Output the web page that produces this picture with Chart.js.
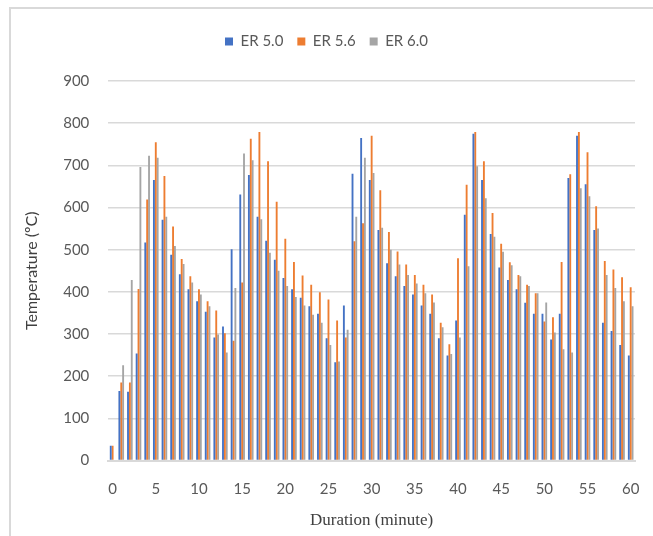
<!DOCTYPE html>
<html>
<head>
<meta charset="utf-8">
<script src="https://cdn.jsdelivr.net/npm/chart.js@4.4.0/dist/chart.umd.min.js"></script>
<style>
  html, body { margin: 0; padding: 0; background: #fff; }
  #frame { position: absolute; left: 9px; top: 7px; width: 700px; height: 600px;
           border-left: 2px solid #d9d9d9; border-top: 2px solid #d9d9d9; }
  #wrap { position: absolute; left: 0; top: 0; width: 653px; height: 536px; }
</style>
</head>
<body>
<div id="frame"></div>
<div id="wrap"><canvas id="chart" width="653" height="536"></canvas></div>
<script>
// minutes 0..60
const minutes = Array.from({ length: 61 }, (_, i) => String(i));

const er50 = [35, 165, 163, 254, 517, 665, 571, 488, 442, 406, 378, 353, 292, 318, 501,
  631, 677, 578, 521, 476, 433, 406, 386, 366, 348, 290, 233, 368, 680, 765,
  665, 547, 468, 437, 414, 394, 368, 348, 290, 249, 332, 583, 775, 665, 537,
  458, 428, 406, 374, 348, 348, 287, 348, 670, 770, 655, 547, 327, 307, 274, 249];

const er56 = [35, 185, 185, 407, 619, 755, 675, 555, 478, 437, 406, 378, 356, 302, 284,
  422, 763, 779, 710, 614, 526, 471, 439, 417, 399, 382, 332, 292, 520, 563,
  770, 641, 542, 496, 465, 440, 417, 394, 327, 276, 480, 654, 779, 710, 587,
  514, 470, 440, 417, 397, 330, 340, 471, 679, 779, 731, 603, 473, 453, 435, 411];

const er60 = [null, 226, 428, 696, 723, 718, 578, 509, 466, 422, 394, 366, 299, 256, 409,
  728, 712, 572, 493, 450, 414, 388, 368, 346, 327, 274, 235, 310, 578, 718,
  682, 552, 500, 465, 440, 420, 397, 375, 316, 253, 292, 461, 698, 622, 531,
  495, 463, 437, 414, 397, 375, 304, 264, 256, 646, 627, 550, 440, 409, 378, 366];

const sansFont = 'Lato, "Open Sans", sans-serif';

// extra room under the legend
const legendSpace = {
  id: 'legendSpace',
  beforeInit(chart) {
    const fit = chart.legend.fit;
    chart.legend.fit = function () {
      fit.bind(chart.legend)();
      this.height += 22;
    };
  }
};

const ctx = document.getElementById('chart').getContext('2d');
new Chart(ctx, {
  type: 'bar',
  data: {
    labels: minutes,
    datasets: [
      { label: 'ER 5.0', data: er50, backgroundColor: '#4472C4' },
      { label: 'ER 5.6', data: er56, backgroundColor: '#ED7D31' },
      { label: 'ER 6.0', data: er60, backgroundColor: '#A5A5A5' }
    ]
  },
  plugins: [legendSpace],
  options: {
    responsive: false,
    animation: false,
    categoryPercentage: 0.65,
    barPercentage: 1.0,
    layout: { padding: { top: 20, left: 18, right: 18, bottom: 4 } },
    plugins: {
      legend: {
        position: 'top',
        labels: {
          boxWidth: 8, boxHeight: 8, padding: 14,
          color: '#595959',
          font: { family: sansFont, size: 15 }
        }
      },
      tooltip: { enabled: false }
    },
    scales: {
      x: {
        grid: { display: false },
        border: { color: '#d9d9d9', width: 2 },
        ticks: {
          autoSkip: false, maxRotation: 0, color: '#595959', padding: 12,
          font: { family: sansFont, size: 15 },
          callback: function (v, i) { return i % 5 === 0 ? this.getLabelForValue(v) : ''; }
        },
        title: {
          display: true, text: 'Duration (minute)', color: '#404040',
          font: { family: '"Liberation Serif", "Times New Roman", serif', size: 17 },
          padding: { top: 0, bottom: 1 }
        }
      },
      y: {
        min: 0, max: 900,
        grid: { color: '#d9d9d9', lineWidth: 1.5, drawTicks: false },
        border: { display: false },
        ticks: {
          stepSize: 100, color: '#595959', padding: 19,
          font: { family: sansFont, size: 15 }
        },
        title: {
          display: true, text: 'Temperature (ºC)', color: '#404040',
          font: { family: sansFont, size: 16 },
          padding: { bottom: 3 }
        }
      }
    }
  }
});
</script>
</body>
</html>
